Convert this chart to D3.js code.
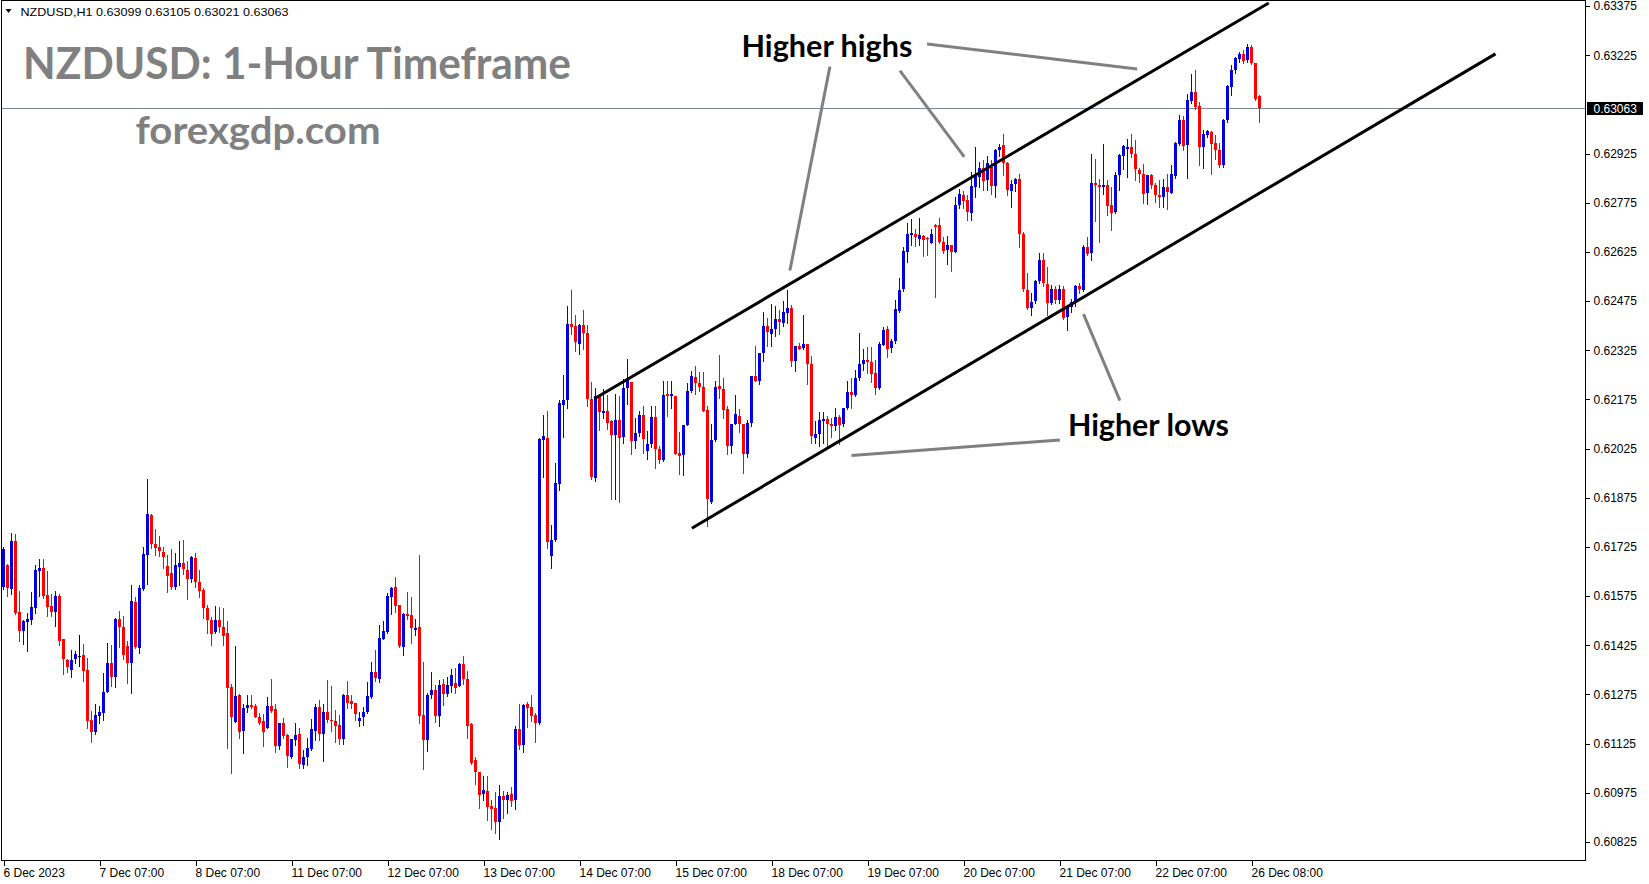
<!DOCTYPE html>
<html><head><meta charset="utf-8">
<script src="https://cdn.jsdelivr.net/npm/d3@7"></script>
<style>
html,body{margin:0;padding:0;background:#fff;overflow:hidden}
svg{display:block}
</style></head><body>
<svg id="chart" width="1649" height="884"></svg>
<script>
// ---- Data (NZDUSD H1) ----
const symbolInfo = "NZDUSD,H1  0.63099 0.63105 0.63021 0.63063";
const opens = [
0.61603,0.61669,0.61597,0.61743,0.61525,0.61466,0.61494,0.61501,0.61539,0.61652,
0.61660,0.61578,0.61544,0.61527,0.61576,0.61443,0.61379,0.61349,0.61382,0.61393,
0.61395,0.61349,0.61196,0.61158,0.61209,0.61219,0.61282,0.61371,0.61328,0.61504,
0.61481,0.61422,0.61371,0.61556,0.61418,0.61595,0.61700,0.61822,0.61735,0.61724,
0.61710,0.61666,0.61644,0.61601,0.61664,0.61675,0.61654,0.61627,0.61692,0.61618,
0.61593,0.61538,0.61503,0.61463,0.61501,0.61481,0.61463,0.61297,0.61191,0.61273,
0.61164,0.61234,0.61242,0.61241,0.61206,0.61194,0.61173,0.61239,0.61230,0.61118,
0.61188,0.61150,0.61084,0.61135,0.61154,0.61061,0.61082,0.61108,0.61163,0.61237,
0.61154,0.61222,0.61196,0.61194,0.61181,0.61139,0.61273,0.61255,0.61249,0.61194,
0.61206,0.61219,0.61267,0.61344,0.61324,0.61445,0.61466,0.61573,0.61603,0.61547,
0.61420,0.61520,0.61517,0.61471,0.61480,0.61212,0.61135,0.61273,0.61288,0.61209,
0.61306,0.61276,0.61301,0.61310,0.61301,0.61367,0.61321,0.61186,0.61074,0.61038,
0.60973,0.60981,0.60935,0.60928,0.60886,0.60965,0.60954,0.60972,0.60953,0.61169,
0.61121,0.61247,0.61236,0.61212,0.61188,0.62053,0.62057,0.61699,0.61747,0.61918,
0.62159,0.62173,0.62406,0.62399,0.62345,0.62403,0.62378,0.62175,0.61935,0.62184,
0.62136,0.62139,0.62110,0.62066,0.62113,0.62058,0.62209,0.62229,0.62049,0.62070,
0.62126,0.62020,0.62040,0.62122,0.62025,0.61990,0.62192,0.62185,0.62185,0.62012,
0.62004,0.62096,0.62201,0.62244,0.62226,0.62214,0.62142,0.61862,0.62051,0.62216,
0.62208,0.62147,0.62033,0.62099,0.62124,0.62099,0.62007,0.62102,0.62246,0.62231,
0.62316,0.62399,0.62376,0.62390,0.62420,0.62407,0.62440,0.62455,0.62292,0.62338,
0.62330,0.62343,0.62282,0.62055,0.62068,0.62109,0.62114,0.62099,0.62092,0.62120,
0.62100,0.62148,0.62197,0.62188,0.62240,0.62282,0.62295,0.62290,0.62254,0.62208,
0.62343,0.62390,0.62330,0.62352,0.62445,0.62510,0.62625,0.62676,0.62678,0.62664,
0.62673,0.62668,0.62653,0.62707,0.62707,0.62656,0.62630,0.62646,0.62625,0.62765,
0.62798,0.62782,0.62744,0.62823,0.62854,0.62882,0.62843,0.62884,0.62825,0.62935,
0.62950,0.62895,0.62813,0.62830,0.62846,0.62679,0.62510,0.62455,0.62475,0.62536,
0.62599,0.62528,0.62470,0.62513,0.62479,0.62513,0.62426,0.62457,0.62472,0.62520,
0.62510,0.62640,0.62620,0.62835,0.62828,0.62823,0.62830,0.62767,0.62747,0.62859,
0.62918,0.62940,0.62945,0.62923,0.62876,0.62864,0.62803,0.62859,0.62828,0.62798,
0.62792,0.62823,0.62805,0.62856,0.62955,0.63028,0.62950,0.63087,0.63113,0.63069,
0.62945,0.62981,0.62991,0.62957,0.62937,0.62892,0.63026,0.63128,0.63179,0.63215,
0.63230,0.63209,0.63250,0.63202,0.63099];
const highs = [
0.61725,0.61672,0.61766,0.61764,0.61590,0.61501,0.61522,0.61586,0.61669,0.61687,
0.61687,0.61652,0.61580,0.61590,0.61580,0.61443,0.61384,0.61410,0.61407,0.61456,
0.61428,0.61385,0.61224,0.61247,0.61239,0.61339,0.61432,0.61425,0.61508,0.61528,
0.61515,0.61437,0.61608,0.61572,0.61608,0.61724,0.61932,0.61825,0.61781,0.61758,
0.61725,0.61701,0.61717,0.61705,0.61742,0.61747,0.61681,0.61698,0.61705,0.61654,
0.61600,0.61547,0.61512,0.61545,0.61542,0.61539,0.61498,0.61308,0.61422,0.61276,
0.61245,0.61273,0.61273,0.61247,0.61217,0.61214,0.61266,0.61321,0.61245,0.61188,
0.61203,0.61153,0.61140,0.61189,0.61173,0.61105,0.61143,0.61201,0.61247,0.61257,
0.61247,0.61318,0.61300,0.61227,0.61212,0.61276,0.61315,0.61273,0.61249,0.61222,
0.61237,0.61313,0.61374,0.61410,0.61486,0.61498,0.61583,0.61603,0.61634,0.61547,
0.61524,0.61587,0.61573,0.61504,0.61700,0.61374,0.61278,0.61344,0.61303,0.61318,
0.61323,0.61329,0.61351,0.61354,0.61371,0.61392,0.61347,0.61188,0.61085,0.61038,
0.61027,0.61027,0.60952,0.60976,0.61000,0.60981,0.60977,0.60993,0.61178,0.61247,
0.61247,0.61251,0.61272,0.61219,0.62057,0.62128,0.62138,0.61791,0.61982,0.62173,
0.62249,0.62461,0.62509,0.62433,0.62405,0.62447,0.62403,0.62229,0.62209,0.62188,
0.62206,0.62189,0.62111,0.62192,0.62184,0.62237,0.62299,0.62229,0.62119,0.62139,
0.62155,0.62079,0.62155,0.62155,0.62033,0.62231,0.62231,0.62231,0.62185,0.62074,
0.62096,0.62224,0.62262,0.62277,0.62259,0.62259,0.62155,0.62099,0.62231,0.62309,
0.62241,0.62155,0.62101,0.62187,0.62145,0.62100,0.62112,0.62246,0.62338,0.62316,
0.62440,0.62424,0.62465,0.62460,0.62447,0.62475,0.62510,0.62462,0.62338,0.62348,
0.62432,0.62343,0.62307,0.62109,0.62135,0.62135,0.62124,0.62118,0.62150,0.62128,
0.62150,0.62230,0.62240,0.62265,0.62378,0.62330,0.62336,0.62336,0.62295,0.62351,
0.62397,0.62399,0.62360,0.62478,0.62544,0.62641,0.62712,0.62725,0.62694,0.62727,
0.62676,0.62669,0.62696,0.62709,0.62727,0.62671,0.62673,0.62646,0.62793,0.62818,
0.62812,0.62798,0.62869,0.62945,0.62899,0.62904,0.62917,0.62906,0.62940,0.62955,
0.62986,0.62900,0.62843,0.62850,0.62864,0.62685,0.62559,0.62498,0.62540,0.62620,
0.62620,0.62579,0.62523,0.62520,0.62525,0.62520,0.62460,0.62480,0.62525,0.62530,
0.62645,0.62670,0.62925,0.62909,0.62848,0.62953,0.62843,0.62823,0.62869,0.62923,
0.62950,0.62970,0.62986,0.62967,0.62882,0.62892,0.62859,0.62862,0.62835,0.62843,
0.62846,0.62862,0.62889,0.62960,0.63042,0.63039,0.63108,0.63169,0.63179,0.63082,
0.62998,0.62998,0.62995,0.62981,0.62957,0.63030,0.63133,0.63194,0.63220,0.63235,
0.63240,0.63258,0.63255,0.63202,0.63105];
const lows = [
0.61598,0.61576,0.61581,0.61520,0.61437,0.61428,0.61408,0.61491,0.61522,0.61576,
0.61569,0.61515,0.61515,0.61483,0.61426,0.61337,0.61344,0.61328,0.61371,0.61361,
0.61316,0.61173,0.61129,0.61154,0.61188,0.61196,0.61282,0.61302,0.61298,0.61420,
0.61382,0.61310,0.61280,0.61416,0.61400,0.61593,0.61612,0.61723,0.61701,0.61697,
0.61661,0.61588,0.61598,0.61598,0.61608,0.61641,0.61565,0.61618,0.61603,0.61573,
0.61508,0.61461,0.61425,0.61461,0.61466,0.61425,0.61112,0.61034,0.61191,0.61143,
0.61095,0.61222,0.61232,0.61206,0.61186,0.61118,0.61173,0.61222,0.61100,0.61108,
0.61143,0.61054,0.61081,0.61120,0.61049,0.61049,0.61059,0.61105,0.61135,0.61137,
0.61072,0.61191,0.61164,0.61130,0.61125,0.61123,0.61234,0.61235,0.61198,0.61179,
0.61181,0.61217,0.61265,0.61315,0.61313,0.61443,0.61463,0.61520,0.61525,0.61420,
0.61395,0.61504,0.61432,0.61456,0.61188,0.61047,0.61103,0.61265,0.61191,0.61178,
0.61242,0.61269,0.61283,0.61280,0.61300,0.61308,0.61142,0.61062,0.61001,0.60928,
0.60954,0.60892,0.60864,0.60853,0.60835,0.60898,0.60914,0.60936,0.60924,0.61107,
0.61099,0.61175,0.61195,0.61130,0.61186,0.61937,0.61722,0.61660,0.61744,0.61898,
0.62061,0.62150,0.62375,0.62324,0.62313,0.62330,0.62156,0.61932,0.61926,0.62083,
0.62117,0.62085,0.61870,0.61870,0.61861,0.62041,0.62161,0.62008,0.62027,0.62064,
0.62012,0.61992,0.62030,0.61967,0.61982,0.61987,0.62124,0.62150,0.62007,0.61946,
0.61943,0.62096,0.62196,0.62190,0.62200,0.62140,0.61789,0.61860,0.62048,0.62180,
0.62119,0.62007,0.62012,0.62099,0.62074,0.61951,0.62000,0.62094,0.62231,0.62221,
0.62292,0.62338,0.62338,0.62368,0.62373,0.62400,0.62409,0.62277,0.62262,0.62328,
0.62328,0.62221,0.62043,0.62043,0.62033,0.62041,0.62031,0.62059,0.62081,0.62039,
0.62095,0.62145,0.62150,0.62185,0.62235,0.62265,0.62254,0.62229,0.62191,0.62208,
0.62341,0.62303,0.62318,0.62346,0.62442,0.62506,0.62595,0.62646,0.62643,0.62646,
0.62612,0.62615,0.62653,0.62486,0.62653,0.62622,0.62588,0.62567,0.62625,0.62760,
0.62760,0.62723,0.62721,0.62793,0.62823,0.62815,0.62815,0.62803,0.62792,0.62918,
0.62860,0.62798,0.62762,0.62810,0.62640,0.62505,0.62452,0.62431,0.62470,0.62530,
0.62520,0.62431,0.62465,0.62470,0.62470,0.62420,0.62386,0.62440,0.62460,0.62500,
0.62505,0.62615,0.62600,0.62720,0.62655,0.62800,0.62737,0.62691,0.62744,0.62813,
0.62879,0.62854,0.62915,0.62845,0.62838,0.62774,0.62772,0.62820,0.62777,0.62762,
0.62762,0.62755,0.62805,0.62850,0.62950,0.62935,0.62851,0.63080,0.63060,0.62889,
0.62882,0.62975,0.62862,0.62909,0.62884,0.62884,0.63020,0.63103,0.63170,0.63205,
0.63200,0.63205,0.63199,0.63087,0.63021];
const closes = [
0.61718,0.61598,0.61743,0.61522,0.61466,0.61498,0.61504,0.61541,0.61654,0.61660,
0.61576,0.61542,0.61527,0.61575,0.61440,0.61382,0.61359,0.61379,0.61397,0.61393,
0.61347,0.61194,0.61158,0.61211,0.61221,0.61282,0.61371,0.61328,0.61504,0.61481,
0.61395,0.61371,0.61559,0.61418,0.61600,0.61703,0.61825,0.61733,0.61722,0.61712,
0.61695,0.61636,0.61601,0.61669,0.61675,0.61656,0.61627,0.61695,0.61618,0.61591,
0.61539,0.61501,0.61461,0.61501,0.61481,0.61454,0.61295,0.61206,0.61269,0.61161,
0.61234,0.61242,0.61237,0.61208,0.61189,0.61161,0.61239,0.61224,0.61118,0.61188,
0.61147,0.61087,0.61138,0.61150,0.61061,0.61084,0.61110,0.61169,0.61237,0.61156,
0.61222,0.61199,0.61194,0.61178,0.61138,0.61273,0.61249,0.61245,0.61215,0.61203,
0.61220,0.61269,0.61344,0.61325,0.61448,0.61468,0.61576,0.61601,0.61545,0.61423,
0.61520,0.61515,0.61476,0.61476,0.61209,0.61135,0.61273,0.61288,0.61209,0.61303,
0.61276,0.61303,0.61334,0.61296,0.61367,0.61320,0.61179,0.61068,0.61038,0.60969,
0.60984,0.60932,0.60927,0.60886,0.60965,0.60954,0.60969,0.60951,0.61169,0.61121,
0.61244,0.61236,0.61210,0.61188,0.62055,0.62064,0.61741,0.61747,0.61920,0.62164,
0.62173,0.62406,0.62397,0.62349,0.62403,0.62378,0.62176,0.61937,0.62186,0.62136,
0.62141,0.62103,0.62066,0.62113,0.62058,0.62209,0.62234,0.62049,0.62072,0.62126,
0.62053,0.62040,0.62122,0.62025,0.61992,0.62187,0.62185,0.62192,0.62009,0.62004,
0.62096,0.62201,0.62246,0.62226,0.62214,0.62142,0.61870,0.62051,0.62214,0.62208,
0.62145,0.62033,0.62101,0.62129,0.62099,0.62007,0.62102,0.62246,0.62231,0.62316,
0.62399,0.62380,0.62390,0.62420,0.62412,0.62440,0.62455,0.62292,0.62338,0.62330,
0.62343,0.62282,0.62063,0.62068,0.62112,0.62116,0.62099,0.62092,0.62120,0.62097,
0.62148,0.62197,0.62188,0.62240,0.62282,0.62295,0.62290,0.62254,0.62208,0.62343,
0.62388,0.62330,0.62352,0.62450,0.62510,0.62627,0.62679,0.62681,0.62669,0.62676,
0.62661,0.62664,0.62679,0.62700,0.62656,0.62630,0.62646,0.62625,0.62768,0.62800,
0.62781,0.62744,0.62825,0.62856,0.62882,0.62843,0.62896,0.62825,0.62935,0.62945,
0.62895,0.62813,0.62833,0.62846,0.62679,0.62510,0.62455,0.62472,0.62536,0.62601,
0.62528,0.62469,0.62513,0.62479,0.62513,0.62426,0.62457,0.62472,0.62520,0.62510,
0.62640,0.62620,0.62835,0.62828,0.62823,0.62830,0.62767,0.62744,0.62859,0.62920,
0.62947,0.62945,0.62923,0.62876,0.62864,0.62803,0.62859,0.62828,0.62798,0.62792,
0.62823,0.62808,0.62862,0.62957,0.63028,0.62950,0.63087,0.63113,0.63067,0.62945,
0.62984,0.62994,0.62955,0.62937,0.62892,0.63028,0.63130,0.63179,0.63215,0.63230,
0.63209,0.63250,0.63202,0.63093,0.63063];

const priceTicks = [0.63375,0.63225,0.62925,0.62775,0.62625,0.62475,0.62325,0.62175,0.62025,
  0.61875,0.61725,0.61575,0.61425,0.61275,0.61125,0.60975,0.60825];
const currentPrice = 0.63063;
const timeTickBars = [0,24,48,72,96,120,144,168,192,216,240,264,288,312];
const timeTickLabels = ["6 Dec 2023","7 Dec 07:00","8 Dec 07:00","11 Dec 07:00","12 Dec 07:00",
  "13 Dec 07:00","14 Dec 07:00","15 Dec 07:00","18 Dec 07:00","19 Dec 07:00","20 Dec 07:00",
  "21 Dec 07:00","22 Dec 07:00","26 Dec 08:00"];

// channel lines [barIndex, price]
const channelUpper = [[147.7, 0.62177],[316.3, 0.63384]];
const channelLower = [[172.1, 0.61782],[373.0, 0.63229]];
// annotation pointers [barIndex, price]
const highPointers = [
  [[206.6, 0.63190],[196.6, 0.62568]],
  [[224.1, 0.63178],[240.2, 0.62915]],
  [[230.9, 0.63259],[283.4, 0.63183]]];
const lowPointers = [
  [[264.1, 0.62051],[212.0, 0.62004]],
  [[279.1, 0.62171],[270.0, 0.62435]]];
const annotations = [
  {text:"Higher highs", bar:184.5, price:0.632185, len:171},
  {text:"Higher lows", bar:266.1, price:0.620632, len:161}];

// ---- Drawing ----
const svg = d3.select("#chart");
const plotL = 2, plotR = 1585.5, plotT = 0.5, plotB = 860.5;
const x = d3.scaleLinear().domain([0, 395]).range([3.5, 3.5 + 4*395]);
const y = d3.scaleLinear().domain([0.60825, 0.63375]).range([841.9, 6]);

svg.append("rect").attr("width",1649).attr("height",884).attr("fill","#fff");
svg.append("defs").append("clipPath").attr("id","plotclip")
  .append("rect").attr("x",plotL).attr("y",plotT).attr("width",plotR-plotL).attr("height",plotB-plotT);

const plot = svg.append("g").attr("clip-path","url(#plotclip)");

// current price line
plot.append("line").attr("x1",plotL).attr("x2",plotR)
  .attr("y1",Math.round(y(currentPrice))+0.5).attr("y2",Math.round(y(currentPrice))+0.5)
  .attr("stroke","#7d8790").attr("stroke-width",1);

// candles
const n = opens.length;
const idx = d3.range(n);
const col = i => closes[i] > opens[i] ? "#0000e0" : (closes[i] < opens[i] ? "#ff0000" : "#000000");
const cg = plot.append("g").attr("shape-rendering","crispEdges");
cg.selectAll("line.wick").data(idx).join("line").attr("class","wick")
  .attr("x1",i=>x(i)).attr("x2",i=>x(i))
  .attr("y1",i=>Math.round(y(highs[i])))
  .attr("y2",i=>Math.round(y(lows[i]))+1)
  .attr("stroke",col).attr("stroke-width",1);
cg.selectAll("rect.body").data(idx).join("rect").attr("class","body")
  .attr("x",i=>x(i)-1.5).attr("width",3)
  .attr("y",i=>Math.round(y(Math.max(opens[i],closes[i]))))
  .attr("height",i=>Math.max(1, Math.round(Math.abs(y(opens[i])-y(closes[i])))))
  .attr("fill",col);

// channel lines
const lineGen = d3.line().x(d=>x(d[0])).y(d=>y(d[1]));
[channelUpper, channelLower].forEach(c=>{
  plot.append("path").attr("d",lineGen(c)).attr("fill","none")
    .attr("stroke","#000").attr("stroke-width",3).attr("stroke-linecap","butt");
});
// pointers
highPointers.concat(lowPointers).forEach(p=>{
  plot.append("path").attr("d",lineGen(p)).attr("fill","none")
    .attr("stroke","#808080").attr("stroke-width",3);
});
// annotation texts
annotations.forEach(a=>{
  plot.append("text").attr("x",x(a.bar)).attr("y",y(a.price))
    .attr("font-family","Lato, 'Open Sans', sans-serif").attr("font-weight",700)
    .attr("font-size",30).attr("fill","#000")
    .attr("textLength",a.len).attr("lengthAdjust","spacingAndGlyphs")
    .text(a.text);
});

// title and watermark
svg.append("text").attr("x",23).attr("y",78.5)
  .attr("font-family","Lato, 'Open Sans', sans-serif").attr("font-weight",700)
  .attr("font-size",44).attr("fill","#808080")
  .attr("textLength",548).attr("lengthAdjust","spacingAndGlyphs")
  .text("NZDUSD: 1-Hour Timeframe");
svg.append("text").attr("x",135.5).attr("y",144)
  .attr("font-family","Lato, 'Open Sans', sans-serif").attr("font-weight",700)
  .attr("font-size",38).attr("fill","#808080")
  .attr("textLength",245).attr("lengthAdjust","spacingAndGlyphs")
  .text("forexgdp.com");

// header info
svg.append("path").attr("d","M5.5,9 L11.5,9 L8.5,13 Z").attr("fill","#000");
svg.append("text").attr("x",20.5).attr("y",16)
  .attr("font-family","'Liberation Sans', Arial, sans-serif").attr("font-size",11.5)
  .attr("fill","#000").attr("textLength",268).attr("lengthAdjust","spacingAndGlyphs")
  .text(symbolInfo);

// frame
svg.append("rect").attr("x",1.5).attr("y",0.5).attr("width",plotR-1.5).attr("height",plotB-0.5)
  .attr("fill","none").attr("stroke","#000").attr("stroke-width",1).attr("shape-rendering","crispEdges");

// right price axis
const yAxis = d3.axisRight(y).tickValues(priceTicks).tickFormat(d3.format(".5f"))
  .tickSize(4).tickPadding(4).tickSizeOuter(0);
const ya = svg.append("g").attr("transform",`translate(${plotR},0)`).call(yAxis);
ya.select(".domain").remove();
ya.selectAll("line").attr("stroke","#000").attr("shape-rendering","crispEdges");
ya.selectAll("text").attr("font-family","'Liberation Sans', Arial, sans-serif")
  .attr("font-size",12).attr("fill","#000");

// current price label
const cy = Math.round(y(currentPrice))+0.5;
svg.append("rect").attr("x",1587).attr("y",cy-6.5).attr("width",56).attr("height",13).attr("fill","#000");
svg.append("text").attr("x",1593.5).attr("y",cy).attr("dy","0.35em")
  .attr("font-family","'Liberation Sans', Arial, sans-serif").attr("font-size",12)
  .attr("fill","#fff").text(d3.format(".5f")(currentPrice));

// bottom time axis
const xAxis = d3.axisBottom(x).tickValues(timeTickBars)
  .tickFormat((d,i)=>timeTickLabels[i]).tickSize(5).tickPadding(3).tickSizeOuter(0);
const xa = svg.append("g").attr("transform",`translate(0,${plotB})`).call(xAxis);
xa.select(".domain").remove();
xa.selectAll("line").attr("stroke","#000").attr("shape-rendering","crispEdges");
xa.selectAll("text").attr("font-family","'Liberation Sans', Arial, sans-serif")
  .attr("font-size",12).attr("fill","#000").attr("text-anchor","start").attr("x",-0.5);
</script>
</body></html>
